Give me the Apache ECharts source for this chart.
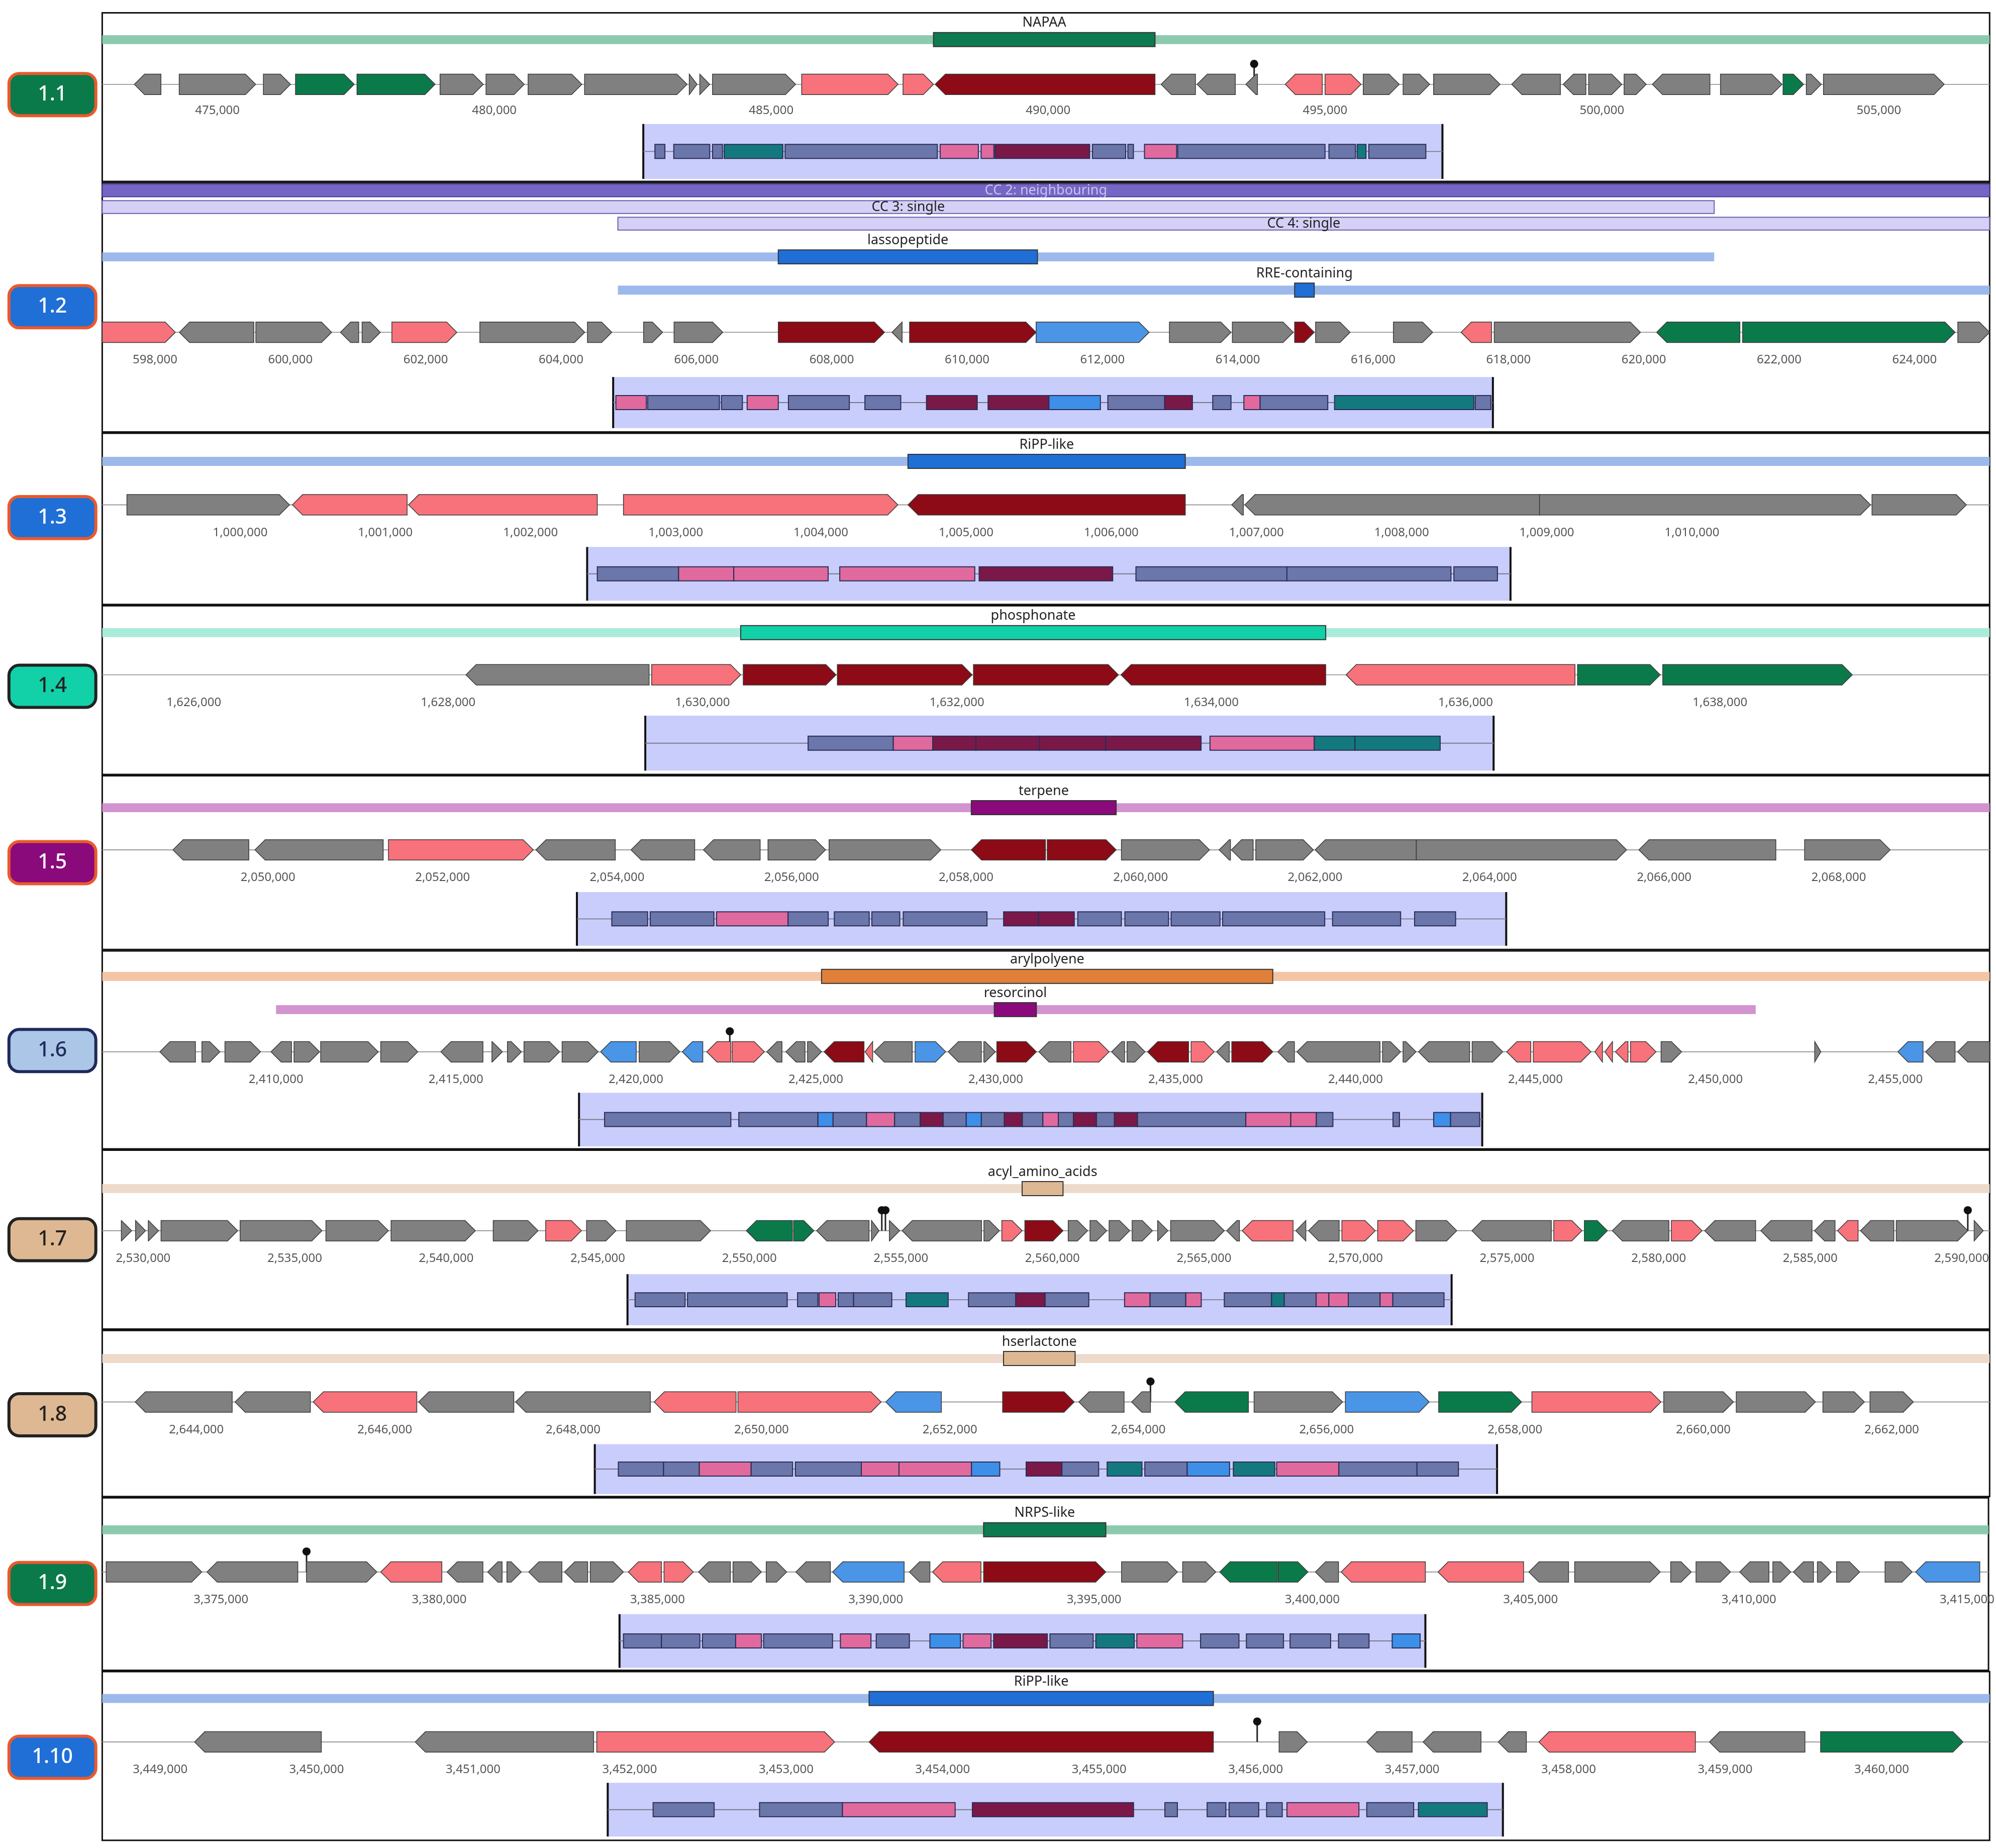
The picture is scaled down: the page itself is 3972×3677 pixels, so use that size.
<!DOCTYPE html>
<html>
<head>
<meta charset="utf-8">
<script src="https://cdn.jsdelivr.net/npm/echarts@6/dist/echarts.min.js"></script>
<style>html,body{margin:0;padding:0;background:#fff}#chart{width:3972px;height:3677px}</style>
</head>
<body>
<div id="chart"></div>
<script>
// gene data: [start kb, end kb, strand, colour key]
var genes_1_1 = [[473.50,473.98,-1,'g'],[474.31,475.69,1,'g'],[475.83,476.32,1,'g'],[476.41,477.47,1,'G'],[477.52,478.93,1,'G'],[479.02,479.80,1,'g'],[479.85,480.54,1,'g'],[480.61,481.58,1,'g'],[481.63,483.48,1,'g'],[483.52,483.66,1,'g'],[483.71,483.89,1,'g'],[483.94,485.44,1,'g'],[485.55,487.29,1,'p'],[487.38,487.93,1,'p'],[487.96,491.93,-1,'r'],[492.04,492.66,-1,'g'],[492.69,493.38,-1,'g'],[493.57,493.78,-1,'g'],[494.28,494.95,-1,'p'],[495.00,495.65,1,'p'],[495.69,496.34,1,'g'],[496.41,496.89,1,'g'],[496.96,498.16,1,'g'],[498.37,499.25,-1,'g'],[499.30,499.71,-1,'g'],[499.76,500.36,1,'g'],[500.40,500.80,1,'g'],[500.91,501.95,-1,'g'],[502.14,503.25,1,'g'],[503.27,503.64,1,'G'],[503.69,503.96,1,'g'],[504.00,506.18,1,'g']];
var genes_1_2 = [[597.22,598.30,1,'p'],[598.36,599.46,-1,'g'],[599.49,600.61,1,'g'],[600.74,601.01,-1,'g'],[601.06,601.33,1,'g'],[601.50,602.46,1,'p'],[602.80,604.35,1,'g'],[604.39,604.75,1,'g'],[605.22,605.50,1,'g'],[605.67,606.39,1,'g'],[607.21,608.78,1,'r'],[608.89,609.04,-1,'g'],[609.15,611.02,1,'r'],[611.02,612.69,1,'b'],[612.99,613.90,1,'g'],[613.92,614.82,1,'g'],[614.84,615.13,1,'r'],[615.15,615.66,1,'g'],[616.30,616.88,1,'g'],[617.30,617.75,-1,'p'],[617.79,619.95,1,'g'],[620.19,621.42,-1,'G'],[621.46,624.60,1,'G'],[624.64,625.11,1,'g']];
var genes_1_3 = [[999.22,1000.34,1,'g'],[1000.36,1001.15,-1,'p'],[1001.16,1002.46,-1,'p'],[1002.64,1004.53,1,'p'],[1004.60,1006.51,-1,'r'],[1006.83,1006.91,-1,'g'],[1006.92,1008.95,-1,'g'],[1008.95,1011.23,1,'g'],[1011.24,1011.89,1,'g']];
var genes_1_4 = [[1628.14,1629.58,-1,'g'],[1629.60,1630.30,1,'p'],[1630.32,1631.05,1,'r'],[1631.06,1632.12,1,'r'],[1632.13,1633.27,1,'r'],[1633.29,1634.90,-1,'r'],[1635.06,1636.86,-1,'p'],[1636.88,1637.53,1,'G'],[1637.55,1639.04,1,'G']];
var genes_1_5 = [[2048.91,2049.78,-1,'g'],[2049.85,2051.32,-1,'g'],[2051.38,2053.04,1,'p'],[2053.07,2053.98,-1,'g'],[2054.16,2054.89,-1,'g'],[2054.99,2055.64,-1,'g'],[2055.73,2056.39,1,'g'],[2056.43,2057.71,1,'g'],[2058.06,2058.91,-1,'r'],[2058.93,2059.72,1,'r'],[2059.78,2060.79,1,'g'],[2060.90,2061.03,-1,'g'],[2061.04,2061.29,-1,'g'],[2061.32,2061.98,1,'g'],[2062.00,2063.16,-1,'g'],[2063.16,2065.57,1,'g'],[2065.71,2067.28,-1,'g'],[2067.61,2068.59,1,'g']];
var genes_1_6 = [[2406.77,2407.76,-1,'g'],[2407.94,2408.44,1,'g'],[2408.58,2409.57,1,'g'],[2409.86,2410.43,-1,'g'],[2410.50,2411.21,1,'g'],[2411.24,2412.84,1,'g'],[2412.91,2413.94,1,'g'],[2414.58,2415.75,-1,'g'],[2416.00,2416.29,1,'g'],[2416.43,2416.82,1,'g'],[2416.89,2417.88,1,'g'],[2417.95,2418.95,1,'g'],[2419.02,2420.01,-1,'b'],[2420.09,2421.22,1,'g'],[2421.29,2421.86,-1,'b'],[2421.97,2422.64,-1,'p'],[2422.68,2423.57,1,'p'],[2423.64,2424.06,-1,'g'],[2424.17,2424.70,-1,'g'],[2424.77,2425.16,1,'g'],[2425.23,2426.34,-1,'r'],[2426.37,2426.58,-1,'p'],[2426.62,2427.68,-1,'g'],[2427.76,2428.61,1,'b'],[2428.68,2429.60,-1,'g'],[2429.67,2429.99,1,'g'],[2430.03,2431.13,1,'r'],[2431.20,2432.09,-1,'g'],[2432.16,2433.15,1,'p'],[2433.22,2433.58,-1,'g'],[2433.65,2434.15,1,'g'],[2434.22,2435.36,-1,'r'],[2435.43,2436.07,1,'p'],[2436.14,2436.49,-1,'g'],[2436.56,2437.70,1,'r'],[2437.84,2438.30,-1,'g'],[2438.37,2440.68,-1,'g'],[2440.75,2441.25,1,'g'],[2441.32,2441.68,1,'g'],[2441.75,2443.17,-1,'g'],[2443.24,2444.09,1,'g'],[2444.20,2444.87,-1,'p'],[2444.94,2446.54,1,'p'],[2446.65,2446.86,-1,'p'],[2446.93,2447.14,-1,'p'],[2447.22,2447.57,-1,'p'],[2447.64,2448.35,1,'p'],[2448.49,2449.06,1,'g'],[2452.76,2452.93,1,'g'],[2455.07,2455.77,-1,'b'],[2455.84,2456.66,-1,'g'],[2456.73,2457.62,-1,'g']];
var genes_1_7 = [[2529.28,2529.62,1,'g'],[2529.75,2530.08,1,'g'],[2530.17,2530.51,1,'g'],[2530.59,2533.12,1,'g'],[2533.20,2535.90,1,'g'],[2536.03,2538.09,1,'g'],[2538.18,2540.96,1,'g'],[2541.55,2543.03,1,'g'],[2543.28,2544.46,1,'p'],[2544.63,2545.60,1,'g'],[2545.94,2548.72,1,'g'],[2549.90,2551.42,-1,'G'],[2551.46,2552.13,1,'G'],[2552.22,2553.95,-1,'g'],[2554.03,2554.28,1,'g'],[2554.62,2554.96,1,'g'],[2555.04,2557.66,-1,'g'],[2557.74,2558.25,1,'g'],[2558.33,2559.00,1,'p'],[2559.09,2560.35,1,'r'],[2560.52,2561.16,1,'g'],[2561.24,2561.79,1,'g'],[2561.87,2562.55,1,'g'],[2562.63,2563.30,1,'g'],[2563.47,2563.81,1,'g'],[2563.90,2565.67,1,'g'],[2565.75,2566.17,-1,'g'],[2566.26,2567.94,-1,'p'],[2568.03,2568.36,-1,'g'],[2568.45,2569.46,-1,'g'],[2569.55,2570.65,1,'p'],[2570.73,2571.91,1,'p'],[2571.99,2573.34,1,'g'],[2573.84,2576.46,-1,'g'],[2576.54,2577.47,1,'p'],[2577.55,2578.31,1,'G'],[2578.47,2580.34,-1,'g'],[2580.42,2581.43,1,'p'],[2581.52,2583.20,-1,'g'],[2583.37,2585.06,-1,'g'],[2585.14,2585.82,-1,'g'],[2585.90,2586.58,-1,'p'],[2586.66,2587.76,-1,'g'],[2587.84,2590.20,1,'g'],[2590.41,2590.71,1,'g']];
var genes_1_8 = [[2643.35,2644.38,-1,'g'],[2644.41,2645.21,-1,'g'],[2645.24,2646.34,-1,'p'],[2646.36,2647.37,-1,'g'],[2647.39,2648.82,-1,'g'],[2648.86,2649.73,-1,'p'],[2649.75,2651.27,1,'p'],[2651.32,2651.91,-1,'b'],[2652.56,2653.32,1,'r'],[2653.37,2653.85,-1,'g'],[2653.93,2654.13,-1,'g'],[2654.39,2655.17,-1,'G'],[2655.23,2656.17,1,'g'],[2656.20,2657.09,1,'b'],[2657.19,2658.07,1,'G'],[2658.18,2659.55,1,'p'],[2659.58,2660.32,1,'g'],[2660.35,2661.19,1,'g'],[2661.27,2661.71,1,'g'],[2661.77,2662.23,1,'g']];
var genes_1_9 = [[3372.37,3374.56,1,'g'],[3374.68,3376.76,-1,'g'],[3376.96,3378.57,1,'g'],[3378.66,3380.06,-1,'p'],[3380.18,3381.00,-1,'g'],[3381.11,3381.44,-1,'g'],[3381.55,3381.88,1,'g'],[3382.05,3382.81,-1,'g'],[3382.87,3383.40,-1,'g'],[3383.46,3384.22,1,'g'],[3384.33,3385.09,-1,'p'],[3385.15,3385.82,1,'p'],[3385.94,3386.67,-1,'g'],[3386.73,3387.38,1,'g'],[3387.49,3387.96,1,'g'],[3388.17,3388.96,-1,'g'],[3389.01,3390.65,-1,'b'],[3390.77,3391.24,-1,'g'],[3391.30,3392.41,-1,'p'],[3392.47,3395.27,1,'r'],[3395.63,3396.91,1,'g'],[3397.03,3397.79,1,'g'],[3397.88,3399.20,-1,'G'],[3399.22,3399.90,1,'G'],[3400.07,3400.60,-1,'g'],[3400.66,3402.59,-1,'p'],[3402.88,3404.84,-1,'p'],[3404.96,3405.87,-1,'g'],[3406.01,3407.97,1,'g'],[3408.21,3408.68,1,'g'],[3408.79,3409.58,1,'g'],[3409.79,3410.46,-1,'g'],[3410.55,3410.96,1,'g'],[3411.02,3411.48,-1,'g'],[3411.57,3411.89,1,'g'],[3412.01,3412.54,1,'g'],[3413.12,3413.74,1,'g'],[3413.82,3415.29,-1,'b']];
var genes_1_10 = [[3449.22,3450.03,-1,'g'],[3450.63,3451.77,-1,'g'],[3451.79,3453.31,1,'p'],[3453.53,3455.73,-1,'r'],[3456.15,3456.33,1,'g'],[3456.71,3457.00,-1,'g'],[3457.07,3457.44,-1,'g'],[3457.55,3457.73,-1,'g'],[3457.81,3458.81,-1,'p'],[3458.90,3459.51,-1,'g'],[3459.61,3460.52,1,'G']];

// domain blocks: [start kb, end kb, colour key]
var dom_1_1 = [[482.90,483.08,'s'],[483.24,483.89,'s'],[483.94,484.12,'s'],[484.15,485.21,'t'],[485.25,488.00,'s'],[488.05,488.74,'p'],[488.79,489.02,'p'],[489.04,490.75,'m'],[490.80,491.40,'s'],[491.44,491.54,'s'],[491.74,492.32,'p'],[492.34,495.00,'s'],[495.07,495.55,'s'],[495.58,495.74,'t'],[495.79,496.82,'s']];
var dom_1_2 = [[604.81,605.26,'p'],[605.28,606.34,'s'],[606.37,606.68,'s'],[606.75,607.21,'p'],[607.36,608.26,'s'],[608.49,609.02,'s'],[609.40,610.15,'m'],[610.31,611.21,'m'],[611.21,611.97,'b'],[612.08,612.92,'s'],[612.92,613.33,'m'],[613.63,613.90,'s'],[614.09,614.33,'p'],[614.33,615.33,'s'],[615.43,617.49,'t'],[617.51,617.74,'s']];
var dom_1_3 = [[1002.46,1003.02,'s'],[1003.02,1003.40,'p'],[1003.40,1004.05,'p'],[1004.13,1005.06,'p'],[1005.09,1006.01,'m'],[1006.17,1007.21,'s'],[1007.21,1008.34,'s'],[1008.36,1008.66,'s']];
var dom_1_4 = [[1630.83,1631.50,'s'],[1631.50,1631.81,'p'],[1631.81,1632.15,'m'],[1632.15,1632.65,'m'],[1632.65,1633.17,'m'],[1633.17,1633.92,'m'],[1633.99,1634.81,'p'],[1634.81,1635.13,'t'],[1635.13,1635.80,'t']];
var dom_1_5 = [[2053.94,2054.35,'s'],[2054.38,2055.11,'s'],[2055.14,2055.96,'p'],[2055.96,2056.42,'s'],[2056.49,2056.89,'s'],[2056.92,2057.24,'s'],[2057.28,2058.24,'s'],[2058.43,2058.83,'m'],[2058.83,2059.24,'m'],[2059.28,2059.78,'s'],[2059.82,2060.32,'s'],[2060.35,2060.91,'s'],[2060.94,2062.11,'s'],[2062.20,2062.98,'s'],[2063.14,2063.61,'s']];
var dom_1_6 = [[2419.13,2422.64,'s'],[2422.86,2425.06,'s'],[2425.06,2425.48,'b'],[2425.48,2426.41,'s'],[2426.41,2427.19,'p'],[2427.19,2427.90,'s'],[2427.90,2428.54,'m'],[2428.54,2429.18,'s'],[2429.18,2429.60,'b'],[2429.60,2430.24,'s'],[2430.24,2430.74,'m'],[2430.74,2431.31,'s'],[2431.31,2431.74,'p'],[2431.74,2432.16,'s'],[2432.16,2432.80,'m'],[2432.80,2433.30,'s'],[2433.30,2433.94,'m'],[2433.94,2436.95,'s'],[2436.95,2438.20,'p'],[2438.20,2438.91,'p'],[2438.91,2439.37,'s'],[2441.04,2441.22,'s'],[2442.17,2442.64,'b'],[2442.64,2443.45,'s']];
var dom_1_7 = [[2546.23,2547.88,'s'],[2547.96,2551.25,'s'],[2551.59,2552.26,'s'],[2552.30,2552.85,'p'],[2552.93,2553.44,'s'],[2553.44,2554.70,'s'],[2555.17,2556.56,'t'],[2557.23,2558.79,'s'],[2558.79,2559.76,'m'],[2559.76,2561.20,'s'],[2562.38,2563.22,'p'],[2563.22,2564.40,'s'],[2564.40,2564.91,'p'],[2565.67,2567.23,'s'],[2567.23,2567.65,'t'],[2567.65,2568.70,'s'],[2568.70,2569.12,'p'],[2569.12,2569.76,'p'],[2569.76,2570.81,'s'],[2570.81,2571.23,'p'],[2571.23,2572.92,'s']];
var dom_1_8 = [[2648.48,2648.96,'s'],[2648.96,2649.34,'s'],[2649.34,2649.89,'p'],[2649.89,2650.33,'s'],[2650.36,2651.06,'s'],[2651.06,2651.46,'p'],[2651.46,2652.23,'p'],[2652.23,2652.53,'b'],[2652.81,2653.19,'m'],[2653.19,2653.58,'s'],[2653.67,2654.04,'t'],[2654.07,2654.52,'s'],[2654.52,2654.97,'b'],[2655.01,2655.45,'t'],[2655.47,2656.13,'p'],[2656.13,2656.96,'s'],[2656.96,2657.40,'s']];
var dom_1_9 = [[3384.22,3385.09,'s'],[3385.09,3385.97,'s'],[3386.03,3386.79,'s'],[3386.79,3387.38,'p'],[3387.43,3389.01,'s'],[3389.19,3389.89,'p'],[3390.01,3390.77,'s'],[3391.24,3391.94,'b'],[3392.00,3392.64,'p'],[3392.70,3393.93,'m'],[3393.99,3394.98,'s'],[3395.04,3395.92,'t'],[3395.98,3397.03,'p'],[3397.44,3398.32,'s'],[3398.49,3399.34,'s'],[3399.49,3400.42,'s'],[3400.60,3401.30,'s'],[3401.83,3402.47,'b']];
var dom_1_10 = [[3452.15,3452.54,'s'],[3452.83,3453.36,'s'],[3453.36,3454.08,'p'],[3454.19,3455.22,'m'],[3455.42,3455.50,'s'],[3455.69,3455.81,'s'],[3455.83,3456.02,'s'],[3456.07,3456.17,'s'],[3456.20,3456.66,'p'],[3456.71,3457.01,'s'],[3457.04,3457.48,'t']];

// tick labels (kb)
var ticks_1_1 = [475,480,485,490,495,500,505];
var ticks_1_2 = [598,600,602,604,606,608,610,612,614,616,618,620,622,624];
var ticks_1_3 = [1000,1001,1002,1003,1004,1005,1006,1007,1008,1009,1010];
var ticks_1_4 = [1626,1628,1630,1632,1634,1636,1638];
var ticks_1_5 = [2050,2052,2054,2056,2058,2060,2062,2064,2066,2068];
var ticks_1_6 = [2410,2415,2420,2425,2430,2435,2440,2445,2450,2455];
var ticks_1_7 = [2530,2535,2540,2545,2550,2555,2560,2565,2570,2575,2580,2585,2590];
var ticks_1_8 = [2644,2646,2648,2650,2652,2654,2656,2658,2660,2662];
var ticks_1_9 = [3375,3380,3385,3390,3395,3400,3405,3410,3415];
var ticks_1_10 = [3449,3450,3451,3452,3453,3454,3455,3456,3457,3458,3459,3460];

// regions: [start, end, core start, core end, label, type]
var reg_1_1 = [[472.92,507.0,487.93,491.93,'NAPAA','nrps']];
var reg_1_2 = [[597.22,621.04,607.21,611.04,'lassopeptide','ripp'],[604.84,625.11,614.84,615.13,'RRE-containing','ripp']];
var cc_1_2 = [[597.22,625.11,'CC 2: neighbouring'],[597.22,621.04,'CC 3: single'],[604.84,625.11,'CC 4: single']];
var reg_1_3 = [[999.05,1012.05,1004.60,1006.51,'RiPP-like','ripp']];
var reg_1_4 = [[1625.28,1640.12,1630.30,1634.90,'phosphonate','phos']];
var reg_1_5 = [[2048.1,2069.73,2058.06,2059.72,'terpene','terp']];
var reg_1_6 = [[2405.17,2457.62,2425.16,2437.70,'arylpolyene','aryl'],[2410.0,2451.12,2429.96,2431.13,'resorcinol','terp']];
var reg_1_7 = [[2528.65,2590.92,2559.0,2560.35,'acyl_amino_acids','tan']];
var reg_1_8 = [[2643.0,2663.04,2652.57,2653.33,'hserlactone','tan']];
var reg_1_9 = [[3372.28,3415.49,3392.47,3395.27,'NRPS-like','nrps']];
var reg_1_10 = [[3448.63,3460.69,3453.53,3455.73,'RiPP-like','ripp']];

// terminator markers (kb)
var mark_1_1 = [493.72], mark_1_6 = [2422.61], mark_1_7 = [2554.37,2554.49,2590.20];
var mark_1_8 = [2654.13], mark_1_9 = [3376.96], mark_1_10 = [3456.01];

var S = 3972 / 1562;
var geneCol = {g:'#808080', p:'#f7727a', r:'#8c0b16', G:'#0b7a4a', b:'#4a95e6'};
var domCol = {s:'#6b76aa', p:'#e06a9e', m:'#7a1848', t:'#14797f', b:'#3d8fe8'};
var regCol = {
  nrps:['#0e7a52','#8ccaae'], ripp:['#1f6fd6','#9db9ec'], phos:['#12d0a8','#a9ecd9'],
  terp:['#8a0a7c','#d294cf'], aryl:['#e0803a','#f4c5a5'], tan:['#deb892','#eddacb']
};

// layout (displayed px units, panel-relative)
var panels = [
  {name:'1.1', top:10, bot:142, min:472.92, max:507.0, genes:genes_1_1, dom:dom_1_1, ticks:ticks_1_1, regs:reg_1_1, regY:[21], marks:mark_1_1, geneY:56, tickY:79, box:[482.69,497.12,87,130], badge:[74,'#0b7a4a','#ea5a2c','#fff']},
  {name:'1.2', top:143, bot:338, min:597.22, max:625.11, genes:genes_1_2, dom:dom_1_2, ticks:ticks_1_2, regs:reg_1_2, regY:[58,84], cc:cc_1_2, marks:[], geneY:117, tickY:141, box:[604.77,617.77,152,192], badge:[240,'#1f6fd6','#ea5a2c','#fff']},
  {name:'1.3', top:339, bot:473, min:999.05, max:1012.05, genes:genes_1_3, dom:dom_1_3, ticks:ticks_1_3, regs:reg_1_3, regY:[22], marks:[], geneY:56, tickY:80, box:[1002.39,1008.75,89,131], badge:[405,'#1f6fd6','#ea5a2c','#fff']},
  {name:'1.4', top:474, bot:606, min:1625.28, max:1640.12, genes:genes_1_4, dom:dom_1_4, ticks:ticks_1_4, regs:reg_1_4, regY:[21], marks:[], geneY:54, tickY:78, box:[1629.55,1636.22,86,129], badge:[537,'#12d0a8','#222','#222']},
  {name:'1.5', top:607, bot:743, min:2048.1, max:2069.73, genes:genes_1_5, dom:dom_1_5, ticks:ticks_1_5, regs:reg_1_5, regY:[25], marks:[], geneY:58, tickY:82, box:[2053.54,2064.19,91,133], badge:[675,'#8a0a7c','#ea5a2c','#fff']},
  {name:'1.6', top:744, bot:899, min:2405.17, max:2457.62, genes:genes_1_6, dom:dom_1_6, ticks:ticks_1_6, regs:reg_1_6, regY:[20,46], marks:mark_1_6, geneY:79, tickY:103, box:[2418.42,2443.52,111,153], badge:[822,'#abc6e6','#1e2a5a','#1e2a5a']},
  {name:'1.7', top:900, bot:1040, min:2528.65, max:2590.92, genes:genes_1_7, dom:dom_1_7, ticks:ticks_1_7, regs:reg_1_7, regY:[30], marks:mark_1_7, geneY:63, tickY:87, box:[2545.98,2573.17,97,137], badge:[970,'#deb892','#222','#222']},
  {name:'1.8', top:1041, bot:1171, min:2643.0, max:2663.04, genes:genes_1_8, dom:dom_1_8, ticks:ticks_1_8, regs:reg_1_8, regY:[22], marks:mark_1_8, geneY:56, tickY:80, box:[2648.23,2657.81,89,128], badge:[1107,'#deb892','#222','#222']},
  {name:'1.9', top:1172, bot:1307, min:3372.28, max:3415.49, genes:genes_1_9, dom:dom_1_9, ticks:ticks_1_9, regs:reg_1_9, regY:[25], marks:mark_1_9, geneY:58, tickY:82, box:[3384.13,3402.59,91,133], badge:[1239,'#0b7a4a','#ea5a2c','#fff']},
  {name:'1.10', top:1308, bot:1440, min:3448.63, max:3460.69, genes:genes_1_10, dom:dom_1_10, ticks:ticks_1_10, regs:reg_1_10, regY:[21], marks:mark_1_10, geneY:55, tickY:79, box:[3451.86,3457.58,87,129], badge:[1375,'#1f6fd6','#ea5a2c','#fff']}
];

var FONT = '"Noto Sans", "Open Sans", sans-serif';

function buildItems(p) {
  var it = [];
  if (p.cc) {
    it.push({k:'rect', x0:p.cc[0][0], x1:p.cc[0][1], y:6, h:10, fill:'#7566c6', stroke:'#4b3f99'});
    it.push({k:'text', x:(p.min + p.max) / 2, y:6, t:p.cc[0][2], fill:'#c9c2ee'});
    for (var c = 1; c < p.cc.length; c++) {
      var yy = 6 + 13 * c;
      it.push({k:'rect', x0:p.cc[c][0], x1:p.cc[c][1], y:yy, h:10, fill:'#d4d0f6', stroke:'#6a60b0'});
      it.push({k:'text', x:(p.cc[c][0] + p.cc[c][1]) / 2, y:yy, t:p.cc[c][2], fill:'#222'});
    }
  }
  p.regs.forEach(function (r, i) {
    var y = p.regY[i], col = regCol[r[5]];
    it.push({k:'rect', x0:r[0], x1:r[1], y:y, h:7, fill:col[1], stroke:null});
    it.push({k:'rect', x0:r[2], x1:r[3], y:y, h:11, fill:col[0], stroke:'#333'});
    it.push({k:'text', x:(r[2] + r[3]) / 2, y:y - 13, t:r[4], fill:'#222'});
  });
  it.push({k:'line', x0:p.min, x1:p.max, y:p.geneY, stroke:'#9a9a9a', w:1.5});
  p.marks.forEach(function (m) { it.push({k:'mark', x:m, y:p.geneY}); });
  p.genes.forEach(function (g) { it.push({k:'gene', s:g[0], e:g[1], d:g[2], fill:geneCol[g[3]]}); });
  var b = p.box;
  it.push({k:'box', x0:b[0], x1:b[1], y0:b[2], y1:b[3]});
  it.push({k:'line', x0:b[0], x1:b[1], y:(b[2] + b[3]) / 2, stroke:'#7a7a8a', w:1.5});
  p.dom.forEach(function (d) {
    it.push({k:'rect', x0:d[0], x1:d[1], y:(b[2] + b[3]) / 2, h:11, fill:domCol[d[2]], stroke:'#2a2d55'});
  });
  return it;
}

function makeRender(items, p) {
  return function (params, api) {
    var o = items[params.dataIndex];
    var c = function (x, y) { return api.coord([x, y]); };
    if (o.k === 'rect') {
      var a = c(o.x0, o.y - o.h / 2), z = c(o.x1, o.y + o.h / 2);
      return {type:'rect', shape:{x:a[0], y:a[1], width:z[0] - a[0], height:z[1] - a[1]},
        style:{fill:o.fill, stroke:o.stroke || 'none', lineWidth:o.stroke ? 2 : 0}};
    }
    if (o.k === 'line') {
      var a1 = c(o.x0, o.y), z1 = c(o.x1, o.y);
      return {type:'line', shape:{x1:a1[0], y1:a1[1], x2:z1[0], y2:z1[1]}, style:{stroke:o.stroke, lineWidth:o.w * S / 2}};
    }
    if (o.k === 'text') {
      var t = c(o.x, o.y);
      return {type:'text', x:t[0], y:t[1], style:{text:o.t, fill:o.fill, font:Math.round(10.5 * S) + 'px ' + FONT,
        align:'center', verticalAlign:'middle', textAlign:'center', textVerticalAlign:'middle'}};
    }
    if (o.k === 'gene') {
      var s = c(o.s, p.geneY), e = c(o.e, p.geneY);
      var h = 8 * S, yc = s[1], head = Math.min(8 * S, e[0] - s[0]);
      var pts;
      if (o.d > 0) pts = [[s[0], yc - h], [e[0] - head, yc - h], [e[0], yc], [e[0] - head, yc + h], [s[0], yc + h]];
      else pts = [[e[0], yc - h], [s[0] + head, yc - h], [s[0], yc], [s[0] + head, yc + h], [e[0], yc + h]];
      return {type:'polygon', shape:{points:pts}, style:{fill:o.fill, stroke:'#3a3a3a', lineWidth:1.5}};
    }
    if (o.k === 'mark') {
      var m = c(o.x, o.y);
      return {type:'group', children:[
        {type:'line', shape:{x1:m[0], y1:m[1], x2:m[0], y2:m[1] - 16 * S}, style:{stroke:'#222', lineWidth:3}},
        {type:'circle', shape:{cx:m[0], cy:m[1] - 16 * S, r:3.2 * S}, style:{fill:'#111'}}]};
    }
    if (o.k === 'box') {
      var b0 = c(o.x0, o.y0), b1 = c(o.x1, o.y1);
      return {type:'group', children:[
        {type:'rect', shape:{x:b0[0], y:b0[1], width:b1[0] - b0[0], height:b1[1] - b0[1]}, style:{fill:'#c9cdfb'}},
        {type:'line', shape:{x1:b0[0], y1:b0[1], x2:b0[0], y2:b1[1]}, style:{stroke:'#111', lineWidth:4}},
        {type:'line', shape:{x1:b1[0], y1:b0[1], x2:b1[0], y2:b1[1]}, style:{stroke:'#111', lineWidth:4}}]};
    }
  };
}

var grids = [], xAxes = [], yAxes = [], series = [], graphics = [];
panels.forEach(function (p, i) {
  var H = p.bot - p.top;
  grids.push({left:80 * S, width:1477 * S, top:p.top * S, height:H * S, show:true, borderColor:'#111', borderWidth:3, backgroundColor:'#fff'});
  xAxes.push({type:'value', gridIndex:i, min:p.min, max:p.max, position:'bottom',
    offset:-(H - p.tickY + 7) * S,
    axisLine:{show:false}, axisTick:{show:false}, splitLine:{show:false},
    axisLabel:{customValues:p.ticks, margin:0, color:'#555', fontSize:Math.round(9.5 * S), fontFamily:FONT,
      formatter:function (v) { return Math.round(v * 1000).toLocaleString('en-US'); }}});
  yAxes.push({type:'value', gridIndex:i, min:0, max:H, inverse:true, show:false});
  var items = buildItems(p);
  series.push({type:'custom', xAxisIndex:i, yAxisIndex:i, clip:false, silent:true, animation:false,
    data:items.map(function (o, k) { return [p.min, k]; }), encode:{x:0, y:1},
    renderItem:makeRender(items, p)});
  var b = p.badge;
  graphics.push({type:'rect', x:7 * S, y:(b[0] - 16.5) * S,
    shape:{width:68 * S, height:33 * S, r:8 * S}, style:{fill:b[1], stroke:b[2], lineWidth:6}});
  graphics.push({type:'text', x:41 * S, y:b[0] * S, z:101,
    style:{text:p.name, fill:b[3], font:'500 ' + Math.round(16 * S) + 'px ' + FONT,
      align:'center', verticalAlign:'middle', textAlign:'center', textVerticalAlign:'middle'}});
});

var chart = echarts.init(document.getElementById('chart'));
chart.setOption({backgroundColor:'#fff', animation:false, grid:grids, xAxis:xAxes, yAxis:yAxes, series:series, graphic:graphics});
</script>
</body>
</html>
